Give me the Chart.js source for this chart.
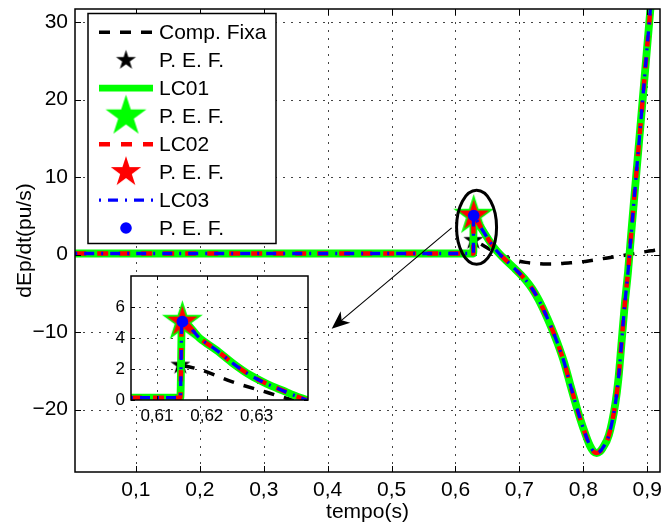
<!DOCTYPE html>
<html><head><meta charset="utf-8">
<script src="https://cdn.jsdelivr.net/npm/chart.js@4"></script>
<style>
html,body{margin:0;padding:0;background:#fff;}
#wrap{position:relative;width:662px;height:528px;}
#main{position:absolute;left:0;top:0;}
#inset{position:absolute;left:90px;top:268px;}
</style></head><body>
<div id="wrap"><canvas id="main" width="662" height="528"></canvas><canvas id="inset" width="230" height="170"></canvas></div>
<script>
// ---------- data ----------
const seriesNames = ['Comp. Fixa','P. E. F.','LC01','P. E. F.','LC02','P. E. F.','LC03','P. E. F.'];

const xTickVals = [0.1,0.2,0.3,0.4,0.5,0.6,0.7,0.8,0.9];
const xTickLabels = ['0,1','0,2','0,3','0,4','0,5','0,6','0,7','0,8','0,9'];
const yTickVals = [-20,-10,0,10,20,30];
const yTickLabels = ['\u221220','\u221210','0','10','20','30'];

const insetXTickVals = [0.61,0.62,0.63];
const insetXTickLabels = ['0,61','0,62','0,63'];
const insetYTickVals = [0,2,4,6];
const insetYTickLabels = ['0','2','4','6'];

// main plot: Comp. Fixa
const tFixa = [0.005,0.628,0.6281,0.640,0.650,0.660,0.670,0.680,0.690,0.700,0.710,0.720,0.730,0.740,0.750,0.760,0.770,0.780,0.790,0.800,0.810,0.820,0.830,0.840,0.850,0.860,0.870,0.880,0.890,0.900,0.910,0.920];
const yFixa = [0.15,0.15,1.85,1.35,0.85,0.4,0.0,-0.35,-0.6,-0.85,-1.0,-1.1,-1.15,-1.2,-1.2,-1.18,-1.12,-1.05,-0.98,-0.9,-0.78,-0.65,-0.52,-0.4,-0.27,-0.14,0.0,0.14,0.28,0.42,0.54,0.66];
// main plot: LC01 / LC02 / LC03 (coincident)
const tLC = [0.005,0.628,0.6282,0.636,0.644,0.652,0.660,0.670,0.680,0.690,0.700,0.710,0.720,0.730,0.740,0.750,0.760,0.770,0.780,0.790,0.800,0.810,0.816,0.821,0.826,0.830,0.840,0.850,0.855,0.860,0.865,0.870,0.875,0.880,0.890,0.900,0.910];
const yLC = [0.15,0.15,5.05,4.0,2.95,1.9,0.95,0.0,-0.8,-1.6,-2.4,-3.3,-4.4,-5.8,-7.5,-9.4,-11.5,-13.9,-16.9,-19.8,-22.4,-24.6,-25.4,-25.6,-25.4,-25.0,-23.3,-19.3,-16.0,-11.2,-6.3,-2.2,2.8,7.6,17.2,26.9,36.5];
// P. E. F. points (main)
const pefFixaT = [0.628];
const pefFixaY = [1.85];
const pefLCT = [0.6285];
const pefLCY = [5.05];

// inset (zoom) data
const tFixaIn = [0.6048,0.6147,0.6148,0.6187,0.6253,0.632,0.6367,0.6375];
const yFixaIn = [0.15,0.15,2.2,1.95,1.15,0.5,0.05,0.0];
const tLCIn = [0.6048,0.6147,0.6150,0.6187,0.622,0.6253,0.6287,0.632,0.6353,0.6387,0.6405];
const yLCIn = [0.15,0.15,5.06,3.95,3.2,2.35,1.6,1.05,0.6,0.15,-0.05];
const pefFixaInT = [0.6147];
const pefFixaInY = [2.25];
const pefLCInT = [0.6151];
const pefLCInY = [5.06];

// ---------- helpers ----------
const FONT = '"Liberation Sans", Arial, Helvetica, sans-serif';
Chart.defaults.color = '#000';
Chart.defaults.font.family = FONT;

function zip(t, y){ return t.map((v,i)=>({x:v, y:y[i]})); }

function starImg(R, color){
  const s = Math.ceil(2*R + 4);
  const c = document.createElement('canvas');
  c.width = s; c.height = s;
  const g = c.getContext('2d');
  g.translate(s/2, s/2);
  g.beginPath();
  for (let k=0;k<10;k++){
    const r = (k%2) ? R*0.382 : R;
    const a = -Math.PI/2 + k*Math.PI/5;
    g.lineTo(r*Math.cos(a), r*Math.sin(a));
  }
  g.closePath();
  g.fillStyle = color; g.fill();
  return c;
}
const starBlack = starImg(10.5, '#000000');
const starGreen = starImg(21.5, '#00ff00');
const starRed = starImg(16, '#ff0000');

function lineDs(label, data, color, width, dash, order){
  return {label, data, showLine:true, borderColor:color, backgroundColor:color, borderWidth:width,
    borderDash:dash, pointRadius:0, pointHoverRadius:0, order, borderJoinStyle:'round', tension:0.25};
}
function markDs(label, data, style, radius, color, order){
  return {label, data, showLine:false, pointStyle:style, pointRadius:radius, pointHoverRadius:radius,
    backgroundColor:color, borderColor:color, borderWidth:0, order};
}
function buildDatasets(tF,yF,tL,yL,pfT,pfY,plT,plY){
  return [
    lineDs(seriesNames[0], zip(tF,yF), '#000000', 3.5, [11,10], 8),
    markDs(seriesNames[1], zip(pfT,pfY), starBlack, 10, '#000000', 7),
    lineDs(seriesNames[2], zip(tL,yL), '#00ff00', 7.8, [], 6),
    markDs(seriesNames[3], zip(plT,plY), starGreen, 20, '#00ff00', 5),
    lineDs(seriesNames[4], zip(tL,yL), '#ff0000', 4.5, [11,11], 4),
    markDs(seriesNames[5], zip(plT,plY), starRed, 15, '#ff0000', 3),
    lineDs(seriesNames[6], zip(tL,yL), '#0000ff', 3.3, [2,7,10,7], 2),
    markDs(seriesNames[7], zip(plT,plY), 'circle', 5.8, '#0000ff', 1)
  ];
}

function noPad(s){ s.paddingTop = 0; s.paddingBottom = 0; s.paddingLeft = 0; s.paddingRight = 0; }

function framePlugin(id, xt, yt, tickLen, whiteBg){
  return {
    id,
    beforeDraw(chart){
      if (!whiteBg) return;
      const {ctx, chartArea:a} = chart;
      ctx.save(); ctx.fillStyle = '#fff';
      ctx.fillRect(a.left, a.top, a.right-a.left, a.bottom-a.top);
      ctx.restore();
    },
    beforeDatasetsDraw(chart){
      const {ctx, chartArea:a, scales:{x, y}} = chart;
      ctx.save();
      ctx.strokeStyle = '#444'; ctx.lineWidth = 1; ctx.setLineDash([2,6]);
      xt.forEach(v=>{
        const p = Math.round(x.getPixelForValue(v)) + 0.5;
        if (p > a.left+1 && p < a.right-1){ ctx.beginPath(); ctx.moveTo(p, a.bottom); ctx.lineTo(p, a.top); ctx.stroke(); }
      });
      yt.forEach(v=>{
        const p = Math.round(y.getPixelForValue(v)) + 0.5;
        if (p > a.top+1 && p < a.bottom-1){ ctx.beginPath(); ctx.moveTo(a.left, p); ctx.lineTo(a.right, p); ctx.stroke(); }
      });
      ctx.restore();
    },
    afterDatasetsDraw(chart){
      const {ctx, chartArea:a, scales:{x, y}} = chart;
      ctx.save();
      ctx.strokeStyle = '#000'; ctx.lineWidth = 1; ctx.setLineDash([]);
      xt.forEach(v=>{
        const p = Math.round(x.getPixelForValue(v)) + 0.5;
        ctx.beginPath(); ctx.moveTo(p, a.bottom); ctx.lineTo(p, a.bottom-tickLen);
        ctx.moveTo(p, a.top); ctx.lineTo(p, a.top+tickLen); ctx.stroke();
      });
      yt.forEach(v=>{
        const p = Math.round(y.getPixelForValue(v)) + 0.5;
        ctx.beginPath(); ctx.moveTo(a.left, p); ctx.lineTo(a.left+tickLen, p);
        ctx.moveTo(a.right, p); ctx.lineTo(a.right-tickLen, p); ctx.stroke();
      });
      ctx.lineWidth = 1.5;
      ctx.strokeRect(a.left, a.top, a.right-a.left, a.bottom-a.top);
      ctx.restore();
    }
  };
}

// annotation (ellipse around the peak, arrow to the zoom)
const ellipseCenter = {x:0.633, y:3.52}, ellipseRadii = {rx:20, ry:37};
const arrowFrom = {x:0.594, y:3.45}, arrowTo = {x:0.4063, y:-9.55};

const annotPlugin = {
  id:'annot',
  afterDatasetsDraw(chart){
    const {ctx, scales:{x, y}} = chart;
    ctx.save();
    ctx.strokeStyle = '#000'; ctx.lineWidth = 3; ctx.setLineDash([]);
    ctx.beginPath();
    ctx.ellipse(x.getPixelForValue(ellipseCenter.x), y.getPixelForValue(ellipseCenter.y), ellipseRadii.rx, ellipseRadii.ry, 0, 0, Math.PI*2);
    ctx.stroke();
    const x1 = x.getPixelForValue(arrowFrom.x), y1 = y.getPixelForValue(arrowFrom.y);
    const x2 = x.getPixelForValue(arrowTo.x), y2 = y.getPixelForValue(arrowTo.y);
    const L = Math.hypot(x2-x1, y2-y1), ux = (x2-x1)/L, uy = (y2-y1)/L, px = -uy, py = ux;
    ctx.lineWidth = 1.1;
    ctx.beginPath(); ctx.moveTo(x1,y1); ctx.lineTo(x2 - ux*12, y2 - uy*12); ctx.stroke();
    ctx.fillStyle = '#000';
    ctx.beginPath();
    ctx.moveTo(x2, y2);
    ctx.lineTo(x2 - ux*18 + px*7.5, y2 - uy*18 + py*7.5);
    ctx.lineTo(x2 - ux*13, y2 - uy*13);
    ctx.lineTo(x2 - ux*18 - px*7.5, y2 - uy*18 - py*7.5);
    ctx.closePath(); ctx.fill();
    ctx.restore();
  }
};

const legendBox = {left:88, top:13.5, width:188, height:230, lineX1:99, lineX2:153, textX:159, base0:39.3, step:27.96};
const legendPlugin = {
  id:'customLegend',
  afterDraw(chart){
    const ctx = chart.ctx, L = legendBox;
    ctx.save();
    ctx.fillStyle = '#fff';
    ctx.fillRect(L.left, L.top, L.width, L.height);
    ctx.strokeStyle = '#000'; ctx.lineWidth = 1.5; ctx.setLineDash([]);
    ctx.strokeRect(L.left, L.top, L.width, L.height);
    chart.data.datasets.forEach((ds, i)=>{
      const base = L.base0 + L.step*i, cy = base - 7;
      if (ds.showLine){
        ctx.save();
        ctx.strokeStyle = ds.borderColor; ctx.lineWidth = ds.borderWidth > 7 ? 6.7 : ds.borderWidth;
        ctx.setLineDash(ds.borderDash || []); ctx.lineCap = 'butt';
        ctx.beginPath(); ctx.moveTo(L.lineX1, cy); ctx.lineTo(L.lineX2, cy); ctx.stroke();
        ctx.restore();
      } else {
        const cx = (L.lineX1 + L.lineX2)/2;
        if (typeof ds.pointStyle === 'object'){
          const im = ds.pointStyle;
          ctx.drawImage(im, cx - im.width/2, cy - im.height/2);
        } else {
          ctx.fillStyle = ds.backgroundColor;
          ctx.beginPath(); ctx.arc(cx, cy, ds.pointRadius, 0, Math.PI*2); ctx.fill();
        }
      }
      ctx.fillStyle = '#000'; ctx.font = '21px ' + FONT; ctx.textBaseline = 'alphabetic'; ctx.textAlign = 'left';
      ctx.fillText(ds.label, L.textX, base);
    });
    ctx.restore();
  }
};

// ---------- main chart ----------
new Chart(document.getElementById('main'), {
  type:'scatter',
  data:{ datasets: buildDatasets(tFixa,yFixa,tLC,yLC,pefFixaT,pefFixaY,pefLCT,pefLCY) },
  options:{
    responsive:false, animation:false, events:[],
    layout:{autoPadding:false, padding:{left:0, right:2, top:9, bottom:0}},
    plugins:{legend:{display:false}, tooltip:{enabled:false}},
    elements:{line:{cubicInterpolationMode:'monotone'}},
    scales:{
      x:{type:'linear', min:0.0047, max:0.92,
        afterBuildTicks:s=>{ s.ticks = xTickVals.map(v=>({value:v})); },
        afterFit:s=>{ s.height = 56; noPad(s); },
        ticks:{callback:(v,i)=>xTickLabels[i], font:{size:21}, color:'#000', padding:6, maxRotation:0, autoSkip:false},
        grid:{display:false, drawTicks:false}, border:{display:false},
        title:{display:true, text:'tempo(s)', font:{size:21}, color:'#000', padding:{top:0, bottom:3.4}}
      },
      y:{type:'linear', min:-28.05, max:31.7,
        afterBuildTicks:s=>{ s.ticks = yTickVals.map(v=>({value:v})); },
        afterFit:s=>{ s.width = 75; noPad(s); },
        ticks:{callback:(v,i)=>yTickLabels[i], font:{size:21}, color:'#000', padding:7, autoSkip:false},
        grid:{display:false, drawTicks:false}, border:{display:false},
        title:{display:true, text:'dEp/dt(pu/s)', font:{size:21}, color:'#000', padding:{top:12.4, bottom:0}}
      }
    }
  },
  plugins:[framePlugin('frameMain', xTickVals, yTickVals, 6, false), annotPlugin, legendPlugin]
});

// ---------- inset chart ----------
new Chart(document.getElementById('inset'), {
  type:'scatter',
  data:{ datasets: buildDatasets(tFixaIn,yFixaIn,tLCIn,yLCIn,pefFixaInT,pefFixaInY,pefLCInT,pefLCInY) },
  options:{
    responsive:false, animation:false, events:[],
    layout:{autoPadding:false, padding:{left:0, right:12, top:8, bottom:0}},
    plugins:{legend:{display:false}, tooltip:{enabled:false}},
    elements:{line:{cubicInterpolationMode:'monotone'}},
    scales:{
      x:{type:'linear', min:0.6048, max:0.6403,
        afterBuildTicks:s=>{ s.ticks = insetXTickVals.map(v=>({value:v})); },
        afterFit:s=>{ s.height = 38; noPad(s); },
        ticks:{callback:(v,i)=>insetXTickLabels[i], font:{size:17}, color:'#000', padding:6.5, maxRotation:0, autoSkip:false},
        grid:{display:false, drawTicks:false}, border:{display:false}
      },
      y:{type:'linear', min:0, max:8,
        afterBuildTicks:s=>{ s.ticks = insetYTickVals.map(v=>({value:v})); },
        afterFit:s=>{ s.width = 41; noPad(s); },
        ticks:{callback:(v,i)=>insetYTickLabels[i], font:{size:17}, color:'#000', padding:6, autoSkip:false},
        grid:{display:false, drawTicks:false}, border:{display:false}
      }
    }
  },
  plugins:[framePlugin('frameInset', insetXTickVals, insetYTickVals, 4, true)]
});
</script>
</body></html>
